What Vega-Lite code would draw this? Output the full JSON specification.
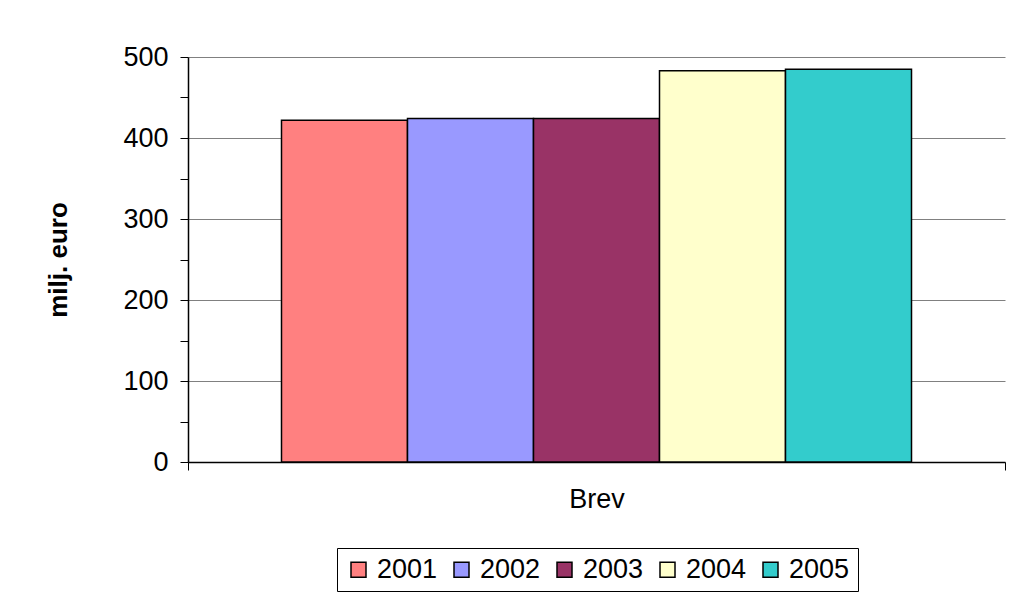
{
  "$schema": "https://vega.github.io/schema/vega-lite/v6.json",
  "width": 817,
  "height": 405,
  "autosize": {"type": "none"},
  "padding": {"left": 188, "top": 57, "right": 4, "bottom": 135},
  "background": "white",
  "config": {
    "view": {"stroke": null},
    "font": "Liberation Sans"
  },
  "data": {
    "values": [
      {"cat": "Brev", "year": "2001", "value": 422},
      {"cat": "Brev", "year": "2002", "value": 424},
      {"cat": "Brev", "year": "2003", "value": 424},
      {"cat": "Brev", "year": "2004", "value": 483},
      {"cat": "Brev", "year": "2005", "value": 485}
    ]
  },
  "mark": {"type": "bar", "stroke": "black", "strokeWidth": 1.5},
  "encoding": {
    "x": {
      "field": "cat",
      "type": "nominal",
      "scale": {"paddingInner": 0, "paddingOuter": 0},
      "axis": {
        "title": null,
        "labelAngle": 0,
        "labelFont": "Liberation Sans",
        "labelFontSize": 27,
        "labelColor": "black",
        "labelPadding": 16,
        "tickBand": "extent",
        "tickSize": 8,
        "tickColor": "black",
        "domainColor": "black",
        "domainWidth": 1.5,
        "grid": false
      }
    },
    "xOffset": {
      "field": "year",
      "type": "nominal",
      "scale": {"paddingInner": 0, "paddingOuter": 0.742}
    },
    "y": {
      "field": "value",
      "type": "quantitative",
      "scale": {"domain": [0, 500], "nice": false},
      "axis": {
        "title": "milj. euro",
        "titleFont": "Liberation Sans",
        "titleFontSize": 26,
        "titleFontWeight": "bold",
        "titleColor": "black",
        "titlePadding": 51,
        "values": [0, 50, 100, 150, 200, 250, 300, 350, 400, 450, 500],
        "labelExpr": "datum.value % 100 == 0 ? datum.label : ''",
        "labelFont": "Liberation Sans",
        "labelFontSize": 27,
        "labelColor": "black",
        "labelPadding": 12,
        "tickSize": 8,
        "tickColor": "black",
        "domainColor": "black",
        "domainWidth": 1.5,
        "grid": true,
        "gridColor": "#808080",
        "gridWidth": 1,
        "gridOpacity": {"condition": {"test": "datum.value % 100 != 0", "value": 0}, "value": 1}
      }
    },
    "fill": {
      "field": "year",
      "type": "nominal",
      "scale": {
        "domain": ["2001", "2002", "2003", "2004", "2005"],
        "range": ["#FF8080", "#9999FF", "#993366", "#FFFFCC", "#33CCCC"]
      },
      "legend": {
        "title": null,
        "orient": "none",
        "legendX": 149,
        "legendY": 491,
        "direction": "horizontal",
        "columns": 5,
        "symbolType": "square",
        "symbolSize": 225,
        "symbolStrokeColor": "black",
        "symbolStrokeWidth": 1.5,
        "labelFont": "Liberation Sans",
        "labelFontSize": 27,
        "labelColor": "black",
        "labelOffset": 5,
        "columnPadding": 10,
        "padding": 8,
        "strokeColor": "black",
        "fillColor": "white"
      }
    }
  }
}
